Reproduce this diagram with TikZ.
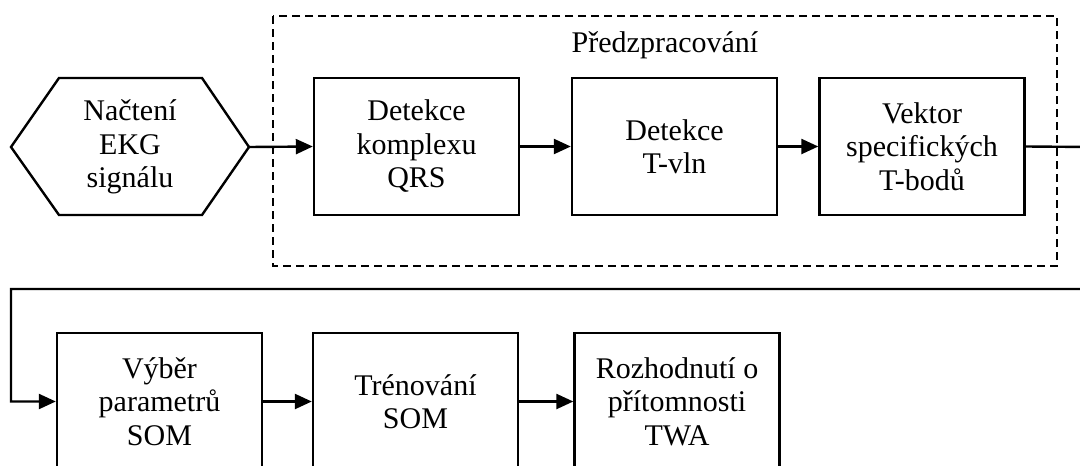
\documentclass[tikz,border=0pt]{standalone}
\usepackage{fontspec}
\setmainfont{Liberation Serif}
\usetikzlibrary{arrows.meta,shapes.geometric}
\begin{document}
\begin{tikzpicture}[x=1pt,y=-1pt,
  lbl/.style={font=\fontsize{30}{33.5}\selectfont, align=center, text=black},
  blk/.style={draw, line width=2.4pt, minimum width=205pt, minimum height=137pt, inner sep=0pt, lbl},
  flow/.style={line width=2.4pt, -{Triangle[length=17pt,width=15pt]}},
  wire/.style={line width=2.4pt}]
\useasboundingbox (0,0) rectangle (1080,466);
\clip (0,0) rectangle (1080,466);
\fill[white] (0,0) rectangle (1080,466);

% preprocessing group
\draw[line width=2.4pt, dash pattern=on 8pt off 5pt] (273,16) rectangle (1057,266);
\node[lbl] (grp) at (665,45) {Předzpracování};

% input hexagon
\draw[line width=2.4pt, line join=miter] (11,147) -- (59,78) -- (202,78) -- (249,147) -- (202,215) -- (59,215) -- cycle;
\coordinate (hexout) at (249,147);
\node[lbl] (load) at (130,147) {Načtení\\EKG\\signálu};

% top row
\node[blk] (qrs) at (416.5,146.5) {Detekce\\komplexu\\QRS};
\node[blk] (twave) at (674.5,146.5) {Detekce\\T-vln};
\node[blk] (vec) at (922,146.5) {Vektor\\specifických\\T-bodů};

% bottom row
\node[blk] (sel) at (159.5,401.5) {Výběr\\parametrů\\SOM};
\node[blk] (train) at (415.5,401.5) {Trénování\\SOM};
\node[blk] (dec) at (677,401.5) {Rozhodnutí o\\přítomnosti\\TWA};

% connectors
\draw[flow] (hexout) -- (qrs.west);
\draw[flow] (qrs) -- (twave);
\draw[flow] (twave) -- (vec);
\coordinate (c1) at (1092,147);
\coordinate (c2) at (1092,289);
\coordinate (c3) at (11,289);
\draw[flow] (vec.east) -- (c1) -- (c2) -- (c3) |- (sel.west);
\draw[flow] (sel) -- (train);
\draw[flow] (train) -- (dec);
\end{tikzpicture}
\end{document}
